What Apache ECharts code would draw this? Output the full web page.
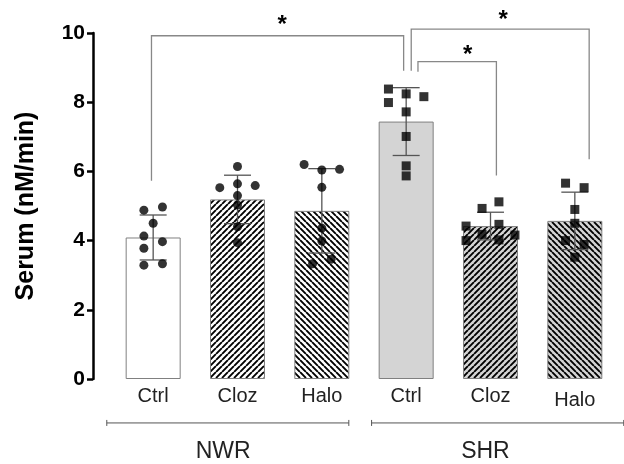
<!DOCTYPE html>
<html>
<head>
<meta charset="utf-8">
<script src="https://cdn.jsdelivr.net/npm/echarts@6/dist/echarts.min.js"></script>
<style>
  html, body { margin: 0; padding: 0; background: #fff; }
  #main { width: 624px; height: 464px; }
</style>
</head>
<body>
<div id="main"></div>
<script>
// categories and groups
var categories = ['Ctrl', 'Cloz', 'Halo', 'Ctrl', 'Cloz', 'Halo'];
var groupNames = ['NWR', 'SHR'];
var yTicks = [0, 2, 4, 6, 8, 10];

// bar means and SD
var means = [4.09, 5.19, 4.86, 7.44, 4.42, 4.57];
var sds = [0.65, 0.70, 1.22, 0.98, 0.40, 0.83];

// individual animals
var dotsNwrCtrl = [4.88, 4.97, 4.50, 4.13, 3.97, 3.78, 3.29, 3.33];
var dotsNwrCloz = [6.14, 5.53, 5.64, 5.59, 5.30, 5.03, 4.40, 3.94];
var dotsNwrHalo = [6.20, 6.04, 6.06, 5.54, 4.36, 3.99, 3.33, 3.46];
var dotsShrCtrl = [8.38, 8.24, 8.16, 7.99, 7.72, 7.01, 6.16, 5.87];
var dotsShrCloz = [4.93, 5.12, 4.42, 4.47, 4.18, 4.16, 4.00, 4.02];
var dotsShrHalo = [5.66, 5.53, 4.90, 4.50, 4.00, 3.89, 3.52];

// horizontal scatter of the dots (fraction of a category band)
var jitNwrCtrl = [-0.11, 0.11, 0, -0.11, 0.11, -0.11, -0.11, 0.11];
var jitNwrCloz = [0, -0.21, 0, 0.21, 0, 0, 0, 0];
var jitNwrHalo = [-0.21, 0, 0.21, 0, 0, 0, -0.11, 0.11];
var jitShrCtrl = [-0.21, 0, 0.21, -0.21, 0, 0, 0, 0];
var jitShrCloz = [-0.1, 0.1, -0.29, 0.1, -0.1, 0.29, -0.29, 0.1];
var jitShrHalo = [-0.11, 0.11, 0, 0, -0.11, 0.11, 0];

// significance brackets: [xLeft, xRight, yTop, yLeftEnd, yRightEnd]
var brackets = [
  [-0.02, 2.97, 9.92, 5.73, 8.91],
  [3.06, 5.17, 10.11, 8.91, 6.35],
  [3.14, 4.07, 9.17, 8.88, 5.88]
];
var stars = [[1.53, 10.36], [4.15, 10.52], [3.73, 9.49]];

// group lines under the axis: [xStart, xEnd, y]
var groupLines = [[-0.55, 2.32, -1.27], [2.59, 5.58, -1.27]];
var groupLabelPos = [[0.83, -2.1], [3.94, -2.1]];

var FONT = 'Liberation Sans';

function hatch(dir, bg) {
  var s = 6;
  var c = document.createElement('canvas');
  c.width = s; c.height = s;
  var ctx = c.getContext('2d');
  ctx.fillStyle = bg;
  ctx.fillRect(0, 0, s, s);
  ctx.strokeStyle = '#000';
  ctx.lineWidth = 1.9;
  ctx.beginPath();
  [-s, 0, s].forEach(function (k) {
    if (dir === '/') { ctx.moveTo(k, s); ctx.lineTo(k + s, 0); }
    else { ctx.moveTo(k, 0); ctx.lineTo(k + s, s); }
  });
  ctx.stroke();
  return { image: c, repeat: 'repeat' };
}

var barFills = [
  '#ffffff',
  hatch('/', '#ffffff'),
  hatch('\\', '#ffffff'),
  '#d4d4d4',
  hatch('/', '#d4d4d4'),
  hatch('\\', '#d4d4d4')
];

var dotSets = [dotsNwrCtrl, dotsNwrCloz, dotsNwrHalo, dotsShrCtrl, dotsShrCloz, dotsShrHalo];
var jitSets = [jitNwrCtrl, jitNwrCloz, jitNwrHalo, jitShrCtrl, jitShrCloz, jitShrHalo];
var circleDots = [], squareDots = [];
dotSets.forEach(function (arr, i) {
  arr.forEach(function (v, j) {
    (i < 3 ? circleDots : squareDots).push([i + jitSets[i][j], v]);
  });
});

var chart = echarts.init(document.getElementById('main'));
var option = {
  animation: false,
  grid: { left: 111, right: 7, top: 33, bottom: 85 },
  xAxis: [
    {
      type: 'category',
      data: categories.map(function (c, i) {
        return i === 5 ? { value: c, textStyle: { padding: [4, 0, 0, 0] } } : c;
      }),
      axisLine: { show: false },
      axisTick: { show: false },
      axisLabel: { fontFamily: FONT, fontSize: 20, color: '#222', margin: 7 }
    },
    { type: 'value', min: -0.5, max: 5.5, show: false }
  ],
  yAxis: {
    type: 'value',
    min: yTicks[0],
    max: yTicks[yTicks.length - 1],
    interval: 2,
    offset: 18,
    name: 'Serum (nM/min)',
    nameLocation: 'middle',
    nameGap: 54,
    nameTextStyle: { fontFamily: FONT, fontSize: 25, fontWeight: 'bold', color: '#000' },
    axisLine: { show: true, onZero: false, lineStyle: { color: '#000', width: 2.5 } },
    axisTick: { show: true, length: 6, lineStyle: { color: '#000', width: 2.5 } },
    axisLabel: { fontFamily: FONT, fontSize: 21, fontWeight: 'bold', color: '#000', margin: 8 },
    splitLine: { show: false }
  },
  series: [
    {
      type: 'bar',
      barWidth: 55,
      data: means.map(function (m, i) {
        return { value: m, itemStyle: { color: barFills[i], borderColor: '#808080', borderWidth: 1 } };
      })
    },
    {
      type: 'custom',
      xAxisIndex: 1,
      clip: false,
      data: means.map(function (m, i) { return [i, m, sds[i]]; }),
      renderItem: function (params, api) {
        var x = api.value(0), m = api.value(1), s = api.value(2);
        var top = api.coord([x, m + s]);
        var bot = api.coord([x, m - s]);
        var half = api.size([1, 0])[0] * 0.16;
        var st = { stroke: '#555', lineWidth: 1.3 };
        return {
          type: 'group',
          children: [
            { type: 'line', shape: { x1: top[0], y1: top[1], x2: bot[0], y2: bot[1] }, style: st },
            { type: 'line', shape: { x1: top[0] - half, y1: top[1], x2: top[0] + half, y2: top[1] }, style: st },
            { type: 'line', shape: { x1: bot[0] - half, y1: bot[1], x2: bot[0] + half, y2: bot[1] }, style: st }
          ]
        };
      },
      z: 3
    },
    {
      type: 'scatter',
      xAxisIndex: 1,
      symbol: 'circle',
      symbolSize: 9,
      itemStyle: { color: '#000' },
      data: circleDots,
      z: 4
    },
    {
      type: 'scatter',
      xAxisIndex: 1,
      symbol: 'rect',
      symbolSize: 9,
      itemStyle: { color: '#000' },
      data: squareDots,
      z: 4
    },
    {
      type: 'custom',
      xAxisIndex: 1,
      clip: false,
      data: brackets,
      renderItem: function (params, api) {
        var a = api.coord([api.value(0), api.value(3)]);
        var b = api.coord([api.value(0), api.value(2)]);
        var c = api.coord([api.value(1), api.value(2)]);
        var d = api.coord([api.value(1), api.value(4)]);
        return {
          type: 'polyline',
          shape: { points: [a, b, c, d] },
          style: { stroke: '#888', lineWidth: 1.3, fill: null }
        };
      },
      z: 2
    },
    {
      type: 'custom',
      xAxisIndex: 1,
      clip: false,
      data: stars,
      renderItem: function (params, api) {
        var p = api.coord([api.value(0), api.value(1)]);
        return {
          type: 'text',
          x: p[0],
          y: p[1] + 5,
          style: { text: '*', font: 'bold 24px ' + FONT, fill: '#000', align: 'center', verticalAlign: 'middle' }
        };
      },
      z: 5
    },
    {
      type: 'custom',
      xAxisIndex: 1,
      clip: false,
      data: groupLines,
      renderItem: function (params, api) {
        var a = api.coord([api.value(0), api.value(2)]);
        var b = api.coord([api.value(1), api.value(2)]);
        var st = { stroke: '#555', lineWidth: 1 };
        return {
          type: 'group',
          children: [
            { type: 'line', shape: { x1: a[0], y1: a[1], x2: b[0], y2: b[1] }, style: st },
            { type: 'line', shape: { x1: a[0], y1: a[1] - 3, x2: a[0], y2: a[1] + 3 }, style: st },
            { type: 'line', shape: { x1: b[0], y1: b[1] - 3, x2: b[0], y2: b[1] + 3 }, style: st }
          ]
        };
      }
    },
    {
      type: 'custom',
      xAxisIndex: 1,
      clip: false,
      data: groupLabelPos.map(function (p, i) { return [p[0], p[1], i]; }),
      renderItem: function (params, api) {
        var p = api.coord([api.value(0), api.value(1)]);
        return {
          type: 'text',
          x: p[0],
          y: p[1],
          style: { text: groupNames[api.value(2)], font: '23px ' + FONT, fill: '#222', align: 'center', verticalAlign: 'middle' }
        };
      }
    }
  ]
};
chart.setOption(option);
</script>
</body>
</html>
